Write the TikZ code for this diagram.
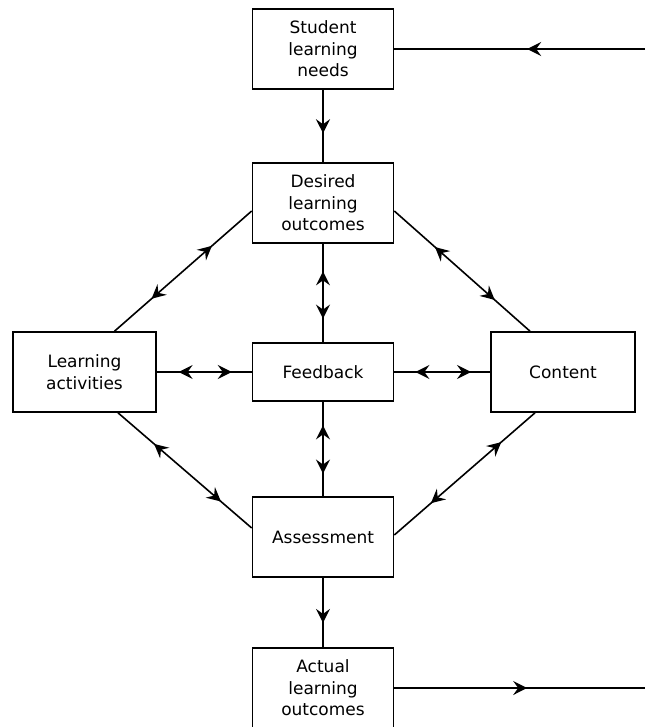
\documentclass[tikz,border=0pt]{standalone}
\usepackage{fontspec}
\setmainfont{DejaVu Sans}
\usetikzlibrary{arrows.meta,decorations.markings}
\begin{document}
\begin{tikzpicture}[x=1pt,y=-1pt,
  >={Stealth[length=14pt,width=14pt,inset=5pt]},
  box/.style={draw, line width=1.6pt, minimum width=141pt, minimum height=80pt,
    align=center, inner sep=0pt, font=\fontsize{17}{21.5}\selectfont},
  conn/.style={line width=1.6pt},
  onearr/.style={conn, postaction={decorate},
    decoration={markings, mark=at position #1 with {\arrow{>}}}},
  twoarr/.style 2 args={conn, postaction={decorate},
    decoration={markings, mark=at position #1 with {\arrowreversed{>}},
      mark=at position #2 with {\arrow{>}}}}]
\useasboundingbox (0,0) rectangle (645,727);
\node[box] (stu) at (323,49) {Student\\learning\\needs};
\node[box] (des) at (323,203) {Desired\\learning\\outcomes};
\node[box, minimum width=143pt] (la) at (84.5,372) {Learning\\activities};
\node[box, minimum height=58pt] (fb) at (323,372) {Feedback};
\node[box, minimum width=144pt] (con) at (563,372) {Content};
\node[box] (ass) at (323,537) {Assessment};
\node[box] (act) at (323,688) {Actual\\learning\\outcomes};
\coordinate (in) at (645,49);
\coordinate (out) at (645,688);
% top and bottom
\draw[onearr=0.47] (in) -- (stu.east);
\draw[onearr=0.6] (stu.south) -- (des.north);
\draw[onearr=0.65] (ass.south) -- (act.north);
\draw[onearr=0.53] (act.east) -- (out);
% verticals to feedback
\draw[twoarr={0.28}{0.76}] (des.south) -- (fb.north);
\draw[twoarr={0.25}{0.76}] (fb.south) -- (ass.north);
% horizontals
\draw[twoarr={0.23}{0.79}] (la.east) -- (fb.west);
\draw[twoarr={0.22}{0.8}] (fb.east) -- (con.west);
% diagonals
\draw[twoarr={0.29}{0.73}] ([yshift=-8pt]des.west) -- ([xshift=30pt]la.north);
\draw[twoarr={0.3}{0.74}] ([yshift=-8pt]des.east) -- ([xshift=-33pt]con.north);
\draw[twoarr={0.27}{0.77}] ([xshift=33.5pt]la.south) -- ([yshift=9pt]ass.west);
\draw[twoarr={0.24}{0.74}] ([xshift=-28pt]con.south) -- ([yshift=2pt]ass.east);
\end{tikzpicture}
\end{document}
